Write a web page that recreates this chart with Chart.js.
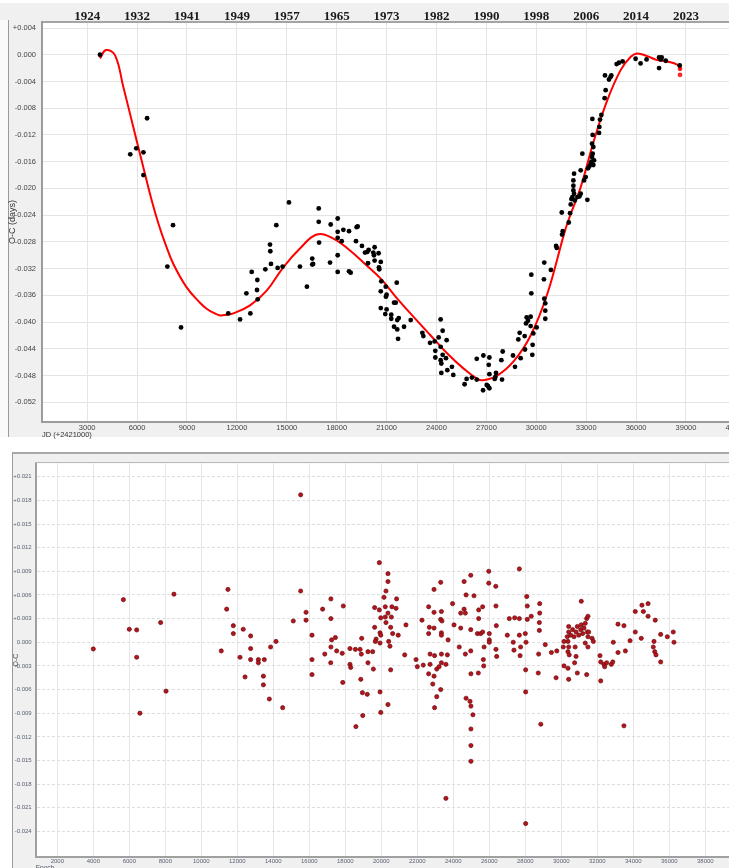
<!DOCTYPE html>
<html>
<head>
<meta charset="utf-8">
<script src="https://cdn.jsdelivr.net/npm/chart.js@4.4.0/dist/chart.umd.min.js"></script>
<style>
  html, body { margin: 0; padding: 0; width: 729px; height: 868px; overflow: hidden; background: #fff; }
  .panel { position: absolute; background: #f0f0f0; }
  #topPanel { left: 0; top: 3px; width: 729px; height: 434px; }
  #topEdge { position: absolute; left: 0; top: 20px; width: 8px; height: 417px; background: #fafafa; border-right: 1px solid #9a9a9a; }
  #botPanel { left: 12px; top: 452px; width: 717px; height: 416px; border-top: 2px solid #a8a8a8; border-left: 1px solid #9a9a9a; box-sizing: border-box; }
  #botTopLine { position: absolute; left: 35px; top: 462px; width: 694px; height: 1px; background: #b8b8b8; z-index: 5; }
  canvas { position: absolute; }
  #ocTop { left: 0; top: 0; }
  #ocBottom { left: 0; top: 452px; }
</style>
</head>
<body>
<div id="topPanel" class="panel"></div>
<div id="topEdge"></div>
<div id="botPanel" class="panel"></div>
<canvas id="ocTop" width="760" height="440"></canvas>
<canvas id="ocBottom" width="760" height="420"></canvas>
<div id="botTopLine"></div>
<script>
// ---------- Upper diagram: O-C (days) against JD (+2421000) ----------
const jdObs = [
  3770, 5590, 5950, 6380, 6600, 6380, 15130, 16920, 18060,
  8160, 7820, 8640, 11480, 12190, 12810, 12570, 12890, 13230, 13210, 13250,
  13710, 13990, 14010, 14050, 14370, 14450, 14750, 15790, 16210, 16530,
  16530, 16580, 16920, 16940, 17600, 17640, 18060, 18060, 18060, 18060,
  18300, 18400, 18740, 18740, 18840, 19160, 19200, 19260, 19520, 19700,
  19840, 19920, 20280, 20200, 20240, 20520, 19880, 20280, 20650, 20540,
  20560, 20680, 20650, 20650, 20950, 21000, 20960, 21000, 20920, 21280,
  21280, 21450, 21450, 21610, 21550, 21640, 21730, 21640, 21690, 22050,
  22450, 23150, 23210, 23610, 23890, 24130, 24250, 24370, 24610, 24250,
  23930, 23930, 24370, 24250, 24290, 24290, 24570, 24650, 24930, 25010,
  25690, 25810, 26130, 26420, 26420, 26820, 27180, 27140, 26800, 27020,
  27100, 27180, 27180, 27500, 27580, 27540, 27940, 27900, 27980, 28600,
  28720, 29060, 28920, 29000, 29300, 29320, 29380, 29420, 29500, 29660,
  29660, 29760, 29780, 29820, 30020, 29700, 29700, 30480, 30460, 30480,
  30540, 30540, 30540, 30880, 31190, 31230, 31550, 31590, 31950,
  31530, 32030, 32070, 32270, 32230, 32230, 32230, 32270, 32170, 32310,
  32110, 32470, 32590, 32670, 32670, 32770, 32870, 32970, 33070, 33110,
  33190, 33270, 33350, 33390, 33430, 33350, 33390, 33370, 33470, 33430,
  33310, 33770, 33790, 33830, 33910, 34110, 34170, 34130, 34370, 34470,
  34510, 34830, 34970, 35190, 35970, 36270, 36630, 37380, 37480, 37380,
  37540, 37780, 38620
];
const ocObs = [
  0.0000, -0.0149, -0.0140, -0.0146, -0.0095, -0.0180, -0.0221, -0.0230, -0.0245,
  -0.0255, -0.0317, -0.0408, -0.0387, -0.0396, -0.0387, -0.0357, -0.0325, -0.0337, -0.0352, -0.0366,
  -0.0321, -0.0284, -0.0294, -0.0313, -0.0255, -0.0319, -0.0317, -0.0317, -0.0347, -0.0305,
  -0.0314, -0.0313, -0.0250, -0.0281, -0.0311, -0.0254, -0.0265, -0.0274, -0.0300, -0.0325,
  -0.0279, -0.0262, -0.0264, -0.0324, -0.0326, -0.0279, -0.0258, -0.0257, -0.0286, -0.0296,
  -0.0295, -0.0292, -0.0288, -0.0296, -0.0300, -0.0297, -0.0312, -0.0308, -0.0310, -0.0318,
  -0.0321, -0.0339, -0.0354, -0.0379, -0.0347, -0.0359, -0.0362, -0.0381, -0.0388, -0.0389,
  -0.0395, -0.0407, -0.0371, -0.0341, -0.0371, -0.0397, -0.0394, -0.0411, -0.0425, -0.0407,
  -0.0397, -0.0416, -0.0421, -0.0431, -0.0429, -0.0423, -0.0396, -0.0413, -0.0427, -0.0437,
  -0.0443, -0.0453, -0.0449, -0.0457, -0.0462, -0.0476, -0.0454, -0.0472, -0.0467, -0.0479,
  -0.0493, -0.0485, -0.0483, -0.0486, -0.0455, -0.0450, -0.0453, -0.0464, -0.0502, -0.0494,
  -0.0496, -0.0499, -0.0478, -0.0485, -0.0476, -0.0482, -0.0486, -0.0457, -0.0444, -0.0450,
  -0.0467, -0.0454, -0.0426, -0.0416, -0.0421, -0.0441, -0.0402, -0.0393, -0.0398, -0.0392,
  -0.0406, -0.0449, -0.0434, -0.0417, -0.0408, -0.0357, -0.0329, -0.0311, -0.0336, -0.0365,
  -0.0372, -0.0383, -0.0395, -0.0322, -0.0286, -0.0289, -0.0269, -0.0264, -0.0251,
  -0.0236, -0.0237, -0.0224, -0.0178, -0.0188, -0.0196, -0.0203, -0.0208, -0.0213, -0.0218,
  -0.0216, -0.0213, -0.0212, -0.0208, -0.0173, -0.0148, -0.0188, -0.0183, -0.0217, -0.0170,
  -0.0167, -0.0163, -0.0153, -0.0148, -0.0138, -0.0133, -0.0120, -0.0096, -0.0158, -0.0165,
  -0.0160, -0.0117, -0.0108, -0.0097, -0.0090, -0.0065, -0.0053, -0.0031, -0.0037, -0.0033,
  -0.0031, -0.0014, -0.0012, -0.0010, -0.0006, -0.0013, -0.0007, -0.0004, -0.0007, -0.0020,
  -0.0004, -0.0009, -0.0016
];

// fitted O-C curve, sampled along its course
const jdFit = [
  3770, 4130, 4670, 5170, 5770, 6370, 6880, 7300, 7700, 8180, 8980,
  9780, 10180, 10580, 10985, 11385, 11785, 12790, 13790, 14790, 15790, 16800, 17800,
  18800, 19700, 20650, 21640, 22650, 23650, 24650, 25650, 26450, 26800,
  27650, 28660, 29660, 30660, 31670, 31970, 32670, 33470, 34270, 35070,
  35680, 36070, 36670, 37270, 37880, 38480, 38680
];
const ocFit = [
  -0.00055, 0.0007, -0.00005, -0.0048, -0.0108, -0.0168, -0.0218, -0.0254, -0.0283, -0.0313, -0.0348,
  -0.0371, -0.0380, -0.0386, -0.0390, -0.0389, -0.0387, -0.0375, -0.0353, -0.0318, -0.0290, -0.0269, -0.0275,
  -0.0293, -0.0313, -0.0335, -0.0365, -0.0393, -0.0420, -0.0447, -0.0470, -0.0485, -0.0487,
  -0.0480, -0.0458, -0.0420, -0.0358, -0.0268, -0.0245, -0.0198, -0.0128, -0.0068, -0.0023,
  -0.0003, 0.0002, -0.0002, -0.0008, -0.0010, -0.0015, -0.0023
];

// latest minima, marked in red
const jdLatest = [38640, 38640];
const ocLatest = [-0.0021, -0.0030];

const jdTicks = [3000, 6000, 9000, 12000, 15000, 18000, 21000, 24000, 27000, 30000, 33000, 36000, 39000, 42000];
const yearTicks = [3000, 6000, 9000, 12000, 15000, 18000, 21000, 24000, 27000, 30000, 33000, 36000, 39000];
const yearLabels = ['1924', '1932', '1941', '1949', '1957', '1965', '1973', '1982', '1990', '1998', '2006', '2014', '2023'];
const ocTicksTop = [-0.052, -0.048, -0.044, -0.040, -0.036, -0.032, -0.028, -0.024, -0.020, -0.016, -0.012, -0.008, -0.004, 0.000, 0.004];

// ---------- Lower diagram: O-C against Epoch ----------
const epoch = [
  4000, 5670, 6000, 6410, 6410, 7740, 8480, 11110, 11410, 11480,
  11780, 11780, 12150, 12330, 12740, 12740, 12740, 13170, 13500, 13850,
  14150, 15110, 15520, 15520, 15820, 15820, 16150, 16150, 16740, 17200,
  17200, 17240, 17200, 17450, 16860, 17520, 17830, 17890, 18260, 18560,
  18820, 18910, 18890, 6590, 8040, 12430, 13170, 13450, 13450, 13780,
  14520, 16150, 17190, 17860, 18260, 18300, 18590, 18860, 18950, 18970,
  19890, 20370, 20370, 20260, 20150, 19630, 19890, 20220, 20590, 20820,
  20850, 20370, 20560, 19970, 20220, 20260, 19630, 20520, 21370, 19930,
  19970, 20630, 20940, 19710, 19670, 20410, 19930, 20480, 19260, 19520,
  21300, 21930, 22930, 23300, 22630, 22930, 23340, 23300, 23370, 22260,
  22670, 22930, 23340, 22630, 23340, 23710, 22710, 23340, 22960, 23670,
  23960, 24040, 24410, 24600, 24970, 24710, 25150, 24600, 24410, 24670,
  25410, 25630, 25410, 24970, 25340, 25520, 25630, 26000, 26000, 26000,
  25710, 24330, 24670, 24970, 25970, 25970, 26360, 26370, 26390, 26370,
  26410, 25670, 27000, 27110, 27410, 27670, 27670, 27330, 27370, 27740,
  27710, 27670, 28080, 28110, 28110, 28000, 28040, 28330, 28800, 28800,
  28780, 28780, 29110, 28740, 29450, 29750, 31110, 30410, 30410, 30330,
  30370, 30410, 30370, 30440, 30150, 30110, 30520, 30630, 30710, 30820,
  30890, 30970, 31080, 31110, 31190, 31260, 31330, 31410, 31440, 31480,
  31520, 31710, 31780, 31480, 31330, 30770, 30820, 31480, 32150, 32890,
  33150, 33480, 33820, 33150, 33560, 34110, 34110, 34480, 34820, 34560,
  34820, 35220, 34440, 35150, 35110, 35190, 35260, 35520, 35890, 36220,
  36260, 19260, 19560, 19220, 19930, 19970, 20370, 20520, 22000, 22330,
  22710, 22630, 22930, 22860, 23080, 23300, 22960, 23080, 23210, 23340,
  23590, 23590, 24710, 24930, 24980, 25090, 24980, 24980, 24980, 24980,
  25390, 25690, 28020, 28020, 28020, 28720, 28860, 29710, 30150, 30370,
  30410, 30740, 30890, 31410, 32190, 32190, 32370, 32410, 32520, 32780,
  32860, 33480, 35520
];
const ocEpoch = [
  -0.00085, 0.0054, 0.00165, 0.00156, -0.0019, 0.0025, 0.0061, -0.0011, 0.0042, 0.0067,
  0.0021, 0.0011, -0.0019, 0.00165, 0.0008, -0.0008, -0.0022, -0.0022, -0.0022, -0.0006,
  0.0001, 0.0027, 0.0187, 0.0065, 0.0038, 0.0028, 0.0009, -0.0022, 0.0042, 0.0055,
  0.0030, 0.0003, -0.0006, 0.0006, -0.0015, -0.0011, -0.0014, 0.0046, -0.0008, -0.0009,
  -0.0009, 0.0005, -0.0015, -0.0090, -0.0062, -0.0044, -0.0026, -0.0043, -0.0054, -0.0072,
  -0.0083, -0.0041, -0.0026, -0.0051, -0.0028, -0.0032, -0.0107, -0.0047, -0.0064, -0.0093,
  0.0101, 0.0087, 0.0077, 0.0065, 0.0057, 0.0044, 0.0041, 0.0045, 0.0045, 0.0043,
  0.0055, 0.0037, 0.0032, 0.0031, 0.0032, 0.0025, 0.0019, 0.0019, 0.0022, 0.0012,
  0.0009, 0.0011, 0.0009, 0.0004, 0.0001, 0.0001, -0.0001, -0.0005, -0.0012, -0.0012,
  -0.0016, -0.0022, 0.0067, 0.0076, 0.0045, 0.0038, 0.0039, 0.0029, 0.0027, 0.0028,
  0.0019, 0.0018, 0.0012, 0.0011, 0.0009, 0.0003, -0.0015, -0.0015, -0.0017, -0.0016,
  0.0049, 0.0022, 0.0018, 0.0077, 0.0085, 0.0060, 0.0059, 0.0042, 0.0037, 0.0037,
  0.0041, 0.0045, 0.0030, 0.0016, 0.0011, 0.0011, 0.0013, 0.0011, 0.0003, 0.0000,
  -0.0006, -0.0006, -0.0015, -0.0011, 0.0090, 0.0075, 0.0071, 0.0046, 0.0021, -0.0009,
  -0.0018, -0.0022, 0.0009, 0.0030, 0.0031, 0.0030, 0.0009, 0.0000, -0.0010, -0.0006,
  -0.0017, 0.0093, 0.0058, 0.0046, 0.0029, 0.0011, 0.0000, 0.0033, 0.0049, 0.0037,
  0.0025, 0.0015, -0.0003, -0.0015, -0.0013, -0.0011, 0.0052, 0.0020, 0.0013, 0.0007,
  0.0001, -0.0006, -0.0012, -0.0016, 0.0001, -0.0006, 0.0009, 0.0016, 0.0007, 0.0013,
  0.0020, 0.0009, 0.0016, 0.0022, 0.0011, 0.0018, 0.0024, 0.0030, 0.0013, 0.0007,
  0.0013, 0.0005, 0.0001, -0.0006, -0.0001, -0.0006, -0.0018, 0.0033, -0.0017, 0.0000,
  0.0023, 0.0021, 0.0002, -0.0013, -0.0011, 0.0013, 0.0039, 0.0047, 0.0049, 0.0039,
  0.0033, 0.0028, 0.0005, 0.0001, -0.0006, -0.0012, -0.0016, 0.0010, 0.0007, 0.0013,
  0.0000, -0.0026, -0.0034, -0.0066, -0.0063, -0.0089, -0.0079, -0.0035, -0.0031, -0.0029,
  -0.0028, -0.0040, -0.0043, -0.0053, -0.0069, -0.0060, -0.0083, -0.0034, -0.0031, -0.0026,
  -0.0028, -0.0198, -0.0071, -0.0075, -0.0081, -0.0092, -0.0040, -0.0110, -0.0131, -0.0151,
  -0.0039, -0.0030, -0.0035, -0.0063, -0.0230, -0.0039, -0.0104, -0.0045, -0.0030, -0.0033,
  -0.0047, -0.0026, -0.0039, -0.0041, -0.0025, -0.0049, -0.0028, -0.0031, -0.0026, -0.0028,
  -0.0025, -0.0106, -0.0025
];

const epochTicks = [2000, 4000, 6000, 8000, 10000, 12000, 14000, 16000, 18000, 20000,
  22000, 24000, 26000, 28000, 30000, 32000, 34000, 36000, 38000];
const ocTicksBottom = [-0.024, -0.021, -0.018, -0.015, -0.012, -0.009, -0.006, -0.003, 0.000,
  0.003, 0.006, 0.009, 0.012, 0.015, 0.018, 0.021];

// ---------- helpers ----------
const pairs = (xs, ys) => xs.map((x, i) => ({ x: x, y: ys[i] }));
const signed = v => {
  const r = Math.round(v * 1000) / 1000;
  if (Math.abs(r) < 1e-9) return '0.000';
  return (r > 0 ? '+' : '') + r.toFixed(3);
};
const fixTicks = list => scale => { scale.ticks = list.map(v => ({ value: v })); };

const plotBackground = {
  id: 'plotBackground',
  beforeDraw(chart) {
    const { ctx, chartArea: a } = chart;
    ctx.save();
    ctx.fillStyle = '#ffffff';
    ctx.fillRect(a.left, a.top, a.right - a.left, a.bottom - a.top);
    ctx.restore();
  }
};

Chart.defaults.font.family = "'Liberation Sans', Arial, sans-serif";

// ---------- upper chart ----------
new Chart(document.getElementById('ocTop'), {
  type: 'scatter',
  data: {
    datasets: [
      {
        data: pairs(jdObs, ocObs),
        backgroundColor: '#000000',
        borderColor: '#000000',
        pointRadius: 2.4,
        borderWidth: 0
      },
      {
        data: pairs(jdFit, ocFit),
        showLine: true,
        borderColor: '#ff0000',
        borderWidth: 2,
        pointRadius: 0,
        tension: 0.4,
        fill: false
      },
      {
        data: pairs(jdLatest, ocLatest),
        backgroundColor: '#ff2a2a',
        borderColor: '#ff2a2a',
        pointRadius: 2.4,
        borderWidth: 0
      }
    ]
  },
  options: {
    responsive: false,
    animation: false,
    devicePixelRatio: 1,
    layout: { padding: { left: 0, top: 0, right: 19, bottom: 0 } },
    plugins: { legend: { display: false }, tooltip: { enabled: false } },
    scales: {
      x: {
        type: 'linear',
        position: 'bottom',
        min: 283,
        max: 42307,
        afterBuildTicks: fixTicks(jdTicks),
        afterFit: s => { s.height = 18; },
        grid: { color: '#e4e4e4', drawTicks: false },
        border: { color: '#9c9c9c', width: 2 },
        ticks: {
          padding: 1, autoSkip: false, maxRotation: 0, color: '#444',
          font: { size: 7.5, lineHeight: 1.2 },
          callback: v => String(v)
        },
        title: {
          display: true, text: 'JD (+2421000)', align: 'start', color: '#333',
          padding: { top: 0, bottom: 1 }, font: { size: 7.5, lineHeight: 1.2 }
        }
      },
      xTop: {
        type: 'linear',
        position: 'top',
        min: 283,
        max: 42307,
        afterBuildTicks: fixTicks(yearTicks),
        afterFit: s => { s.height = 22; },
        grid: { display: false, drawTicks: false },
        border: { display: true, color: '#a4a4a4', width: 2 },
        ticks: {
          padding: 0, autoSkip: false, maxRotation: 0, color: '#1a1a1a',
          font: { family: "'Liberation Serif', 'Times New Roman', serif", size: 13, weight: 'bold', lineHeight: 0.85 },
          callback: (v, i) => yearLabels[i]
        }
      },
      y: {
        type: 'linear',
        min: -0.05495,
        max: 0.0049,
        afterBuildTicks: fixTicks(ocTicksTop),
        afterFit: s => { s.width = 42; },
        grid: { color: '#e4e4e4', drawTicks: false },
        border: { color: '#9c9c9c', width: 2 },
        ticks: {
          padding: 6, color: '#444',
          font: { size: 7.5 },
          callback: v => signed(v)
        },
        title: {
          display: true, text: 'O-C (days)', color: '#333',
          padding: { top: 7.6, bottom: 0 }, font: { size: 9, lineHeight: 1 }
        }
      }
    }
  },
  plugins: [plotBackground]
});

// ---------- lower chart ----------
new Chart(document.getElementById('ocBottom'), {
  type: 'scatter',
  data: {
    datasets: [
      {
        data: pairs(epoch, ocEpoch),
        backgroundColor: '#b3151c',
        borderColor: '#6e0a0e',
        borderWidth: 0.7,
        pointRadius: 2.1
      }
    ]
  },
  options: {
    responsive: false,
    animation: false,
    devicePixelRatio: 1,
    layout: { padding: { left: 0, top: 11.3, right: 18.7, bottom: 0 } },
    plugins: { legend: { display: false }, tooltip: { enabled: false } },
    scales: {
      x: {
        type: 'linear',
        position: 'bottom',
        min: 800,
        max: 40000,
        afterBuildTicks: fixTicks(epochTicks),
        afterFit: s => { s.height = 15.3; },
        grid: { color: '#e6e6e6', drawTicks: false },
        border: { color: '#a0a0a0', width: 2 },
        ticks: {
          padding: 1.5, autoSkip: false, maxRotation: 0, color: '#5a6272',
          font: { size: 6, lineHeight: 1.2 },
          callback: v => String(v)
        },
        title: {
          display: true, text: 'Epoch', align: 'start', color: '#4a5060',
          padding: { top: 0, bottom: 0 }, font: { size: 6.5, lineHeight: 1.2 }
        }
      },
      y: {
        type: 'linear',
        min: -0.0272,
        max: 0.0227,
        afterBuildTicks: fixTicks(ocTicksBottom),
        afterFit: s => { s.width = 35.7; },
        grid: { color: '#dedede', drawTicks: false },
        border: { color: '#a0a0a0', width: 2, dash: [3, 2] },
        ticks: {
          padding: 4, color: '#5a6272',
          font: { size: 6 },
          callback: v => signed(v)
        },
        title: {
          display: true, text: 'O-C', color: '#4a5060',
          padding: { top: 11.8, bottom: 0 }, font: { size: 7, lineHeight: 1.2 }
        }
      }
    }
  },
  plugins: [plotBackground]
});
</script>
</body>
</html>
